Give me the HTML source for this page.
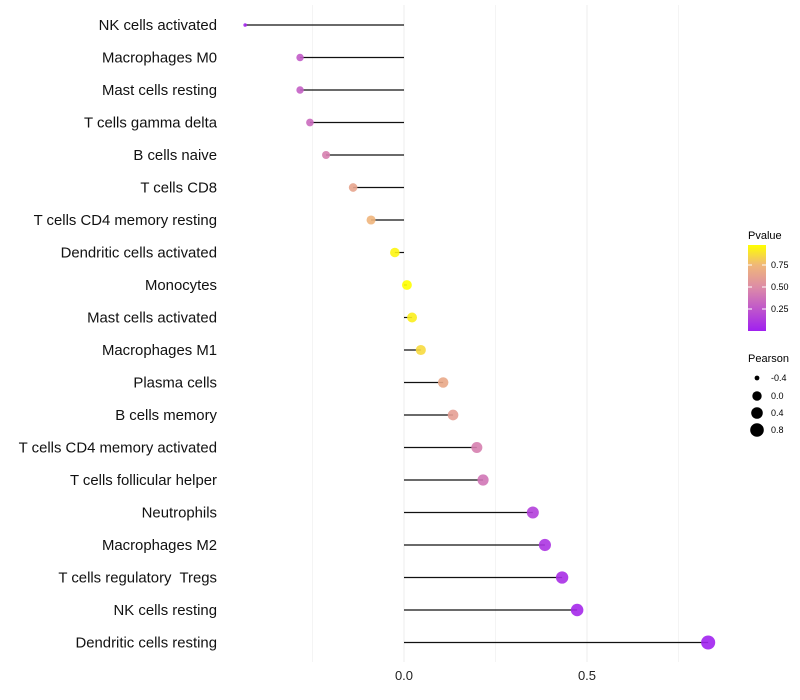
<!DOCTYPE html>
<html><head><meta charset="utf-8"><style>
body{margin:0;background:#fff;}
svg{display:block;font-family:"Liberation Sans",sans-serif;}
</style></head><body>
<svg id="c" width="800" height="700">
<defs><linearGradient id="pg" x1="0" y1="1" x2="0" y2="0">
<stop offset="0" stop-color="#a020f0"/><stop offset="0.5" stop-color="#dc8aa8"/><stop offset="0.77" stop-color="#f0b878"/><stop offset="1" stop-color="#ffff00"/></linearGradient></defs>
<g id="grid"></g><g id="marks"></g><g id="labels"></g>
<g>
<text x="748" y="239" font-size="11">Pvalue</text>
<rect x="748" y="245" width="18" height="86" fill="url(#pg)"/>
<g stroke="#fff" stroke-width="1"><line x1="748" y1="265" x2="752" y2="265"/><line x1="762" y1="265" x2="766" y2="265"/><line x1="748" y1="287" x2="752" y2="287"/><line x1="762" y1="287" x2="766" y2="287"/><line x1="748" y1="309" x2="752" y2="309"/><line x1="762" y1="309" x2="766" y2="309"/></g>
<text x="771" y="268" font-size="9">0.75</text><text x="771" y="290" font-size="9">0.50</text><text x="771" y="312" font-size="9">0.25</text>
</g>
<g>
<text x="748" y="362" font-size="11">Pearson</text>
<circle cx="757" cy="378" r="2.4"/><text x="771" y="381" font-size="9">-0.4</text>
<circle cx="757" cy="396" r="4.7"/><text x="771" y="399" font-size="9">0.0</text>
<circle cx="757" cy="413" r="5.8"/><text x="771" y="416" font-size="9">0.4</text>
<circle cx="757" cy="430" r="6.8"/><text x="771" y="433" font-size="9">0.8</text>
</g>
</svg>
<script>
const categories=["NK cells activated","Macrophages M0","Mast cells resting","T cells gamma delta","B cells naive","T cells CD8","T cells CD4 memory resting","Dendritic cells activated","Monocytes","Mast cells activated","Macrophages M1","Plasma cells","B cells memory","T cells CD4 memory activated","T cells follicular helper","Neutrophils","Macrophages M2","T cells regulatory  Tregs","NK cells resting","Dendritic cells resting"];
const pearson=[-0.434,-0.284,-0.284,-0.257,-0.213,-0.139,-0.090,-0.025,0.008,0.022,0.046,0.107,0.134,0.199,0.216,0.352,0.385,0.432,0.473,0.831];
const pvalue=[0.03,0.28,0.30,0.35,0.45,0.65,0.75,0.95,0.98,0.93,0.87,0.68,0.62,0.45,0.40,0.15,0.10,0.07,0.04,0.01];
const xTicks=[0,0.5];
const xTickLabels=["0.0","0.5"];
const minorTicks=[-0.25,0.25,0.75];
const NS="http://www.w3.org/2000/svg";
const x=v=>404+v*366;
const y=i=>25+i*32.5;
const sizeKnots=[[-0.45,1.6],[-0.284,3.7],[0,4.9],[0.35,6],[0.85,7.1]];
function r(v){for(let k=0;k<sizeKnots.length-1;k++){const a=sizeKnots[k],b=sizeKnots[k+1];if(v<=b[0]||k===sizeKnots.length-2){const t=Math.max(0,Math.min(1,(v-a[0])/(b[0]-a[0])));return a[1]+(b[1]-a[1])*t;}}}
function lerp(a,b,t){return a.map((c,i)=>Math.round(c+(b[i]-c)*t));}
function col(p){const s=[[0,[160,32,240]],[0.5,[220,138,168]],[0.77,[240,184,120]],[0.98,[255,255,0]]];
 p=Math.min(Math.max(p,0),0.98);for(let k=0;k<s.length-1;k++){if(p<=s[k+1][0]){const c=lerp(s[k][1],s[k+1][1],(p-s[k][0])/(s[k+1][0]-s[k][0]));return `rgb(${c})`;}}return "rgb(255,255,0)";}
function mk(t,a,p){const e=document.createElementNS(NS,t);for(const k in a)e.setAttribute(k,a[k]);p.appendChild(e);return e;}
const g=document.getElementById('grid'),m=document.getElementById('marks'),lb=document.getElementById('labels');
[...xTicks,...minorTicks].forEach(v=>{const l=mk('line',{x1:x(v),x2:x(v),y1:5,y2:662,stroke:'#ececec','stroke-width':xTicks.includes(v)?1:0.6},g);

});
xTicks.forEach((v,i)=>{const t=mk('text',{x:x(v),y:680,'font-size':13,'text-anchor':'middle',fill:'#222'},lb);t.textContent=xTickLabels[i];

});
categories.forEach((c,i)=>{
 const t=mk('text',{x:217,y:y(i)+5,'font-size':14.9,'text-anchor':'end',fill:'#111'},lb);t.textContent=c;
 t.setAttribute('xml:space','preserve');t.style.whiteSpace='pre';
 
 
 const l=mk('line',{x1:x(0),x2:x(pearson[i]),y1:y(i),y2:y(i),stroke:'#111','stroke-width':1.2},m);
 
 
 const d=mk('circle',{cx:x(pearson[i]),cy:y(i),r:r(pearson[i]),fill:col(pvalue[i]),'fill-opacity':0.9},m);
 
 
});
</script>
</body></html>
